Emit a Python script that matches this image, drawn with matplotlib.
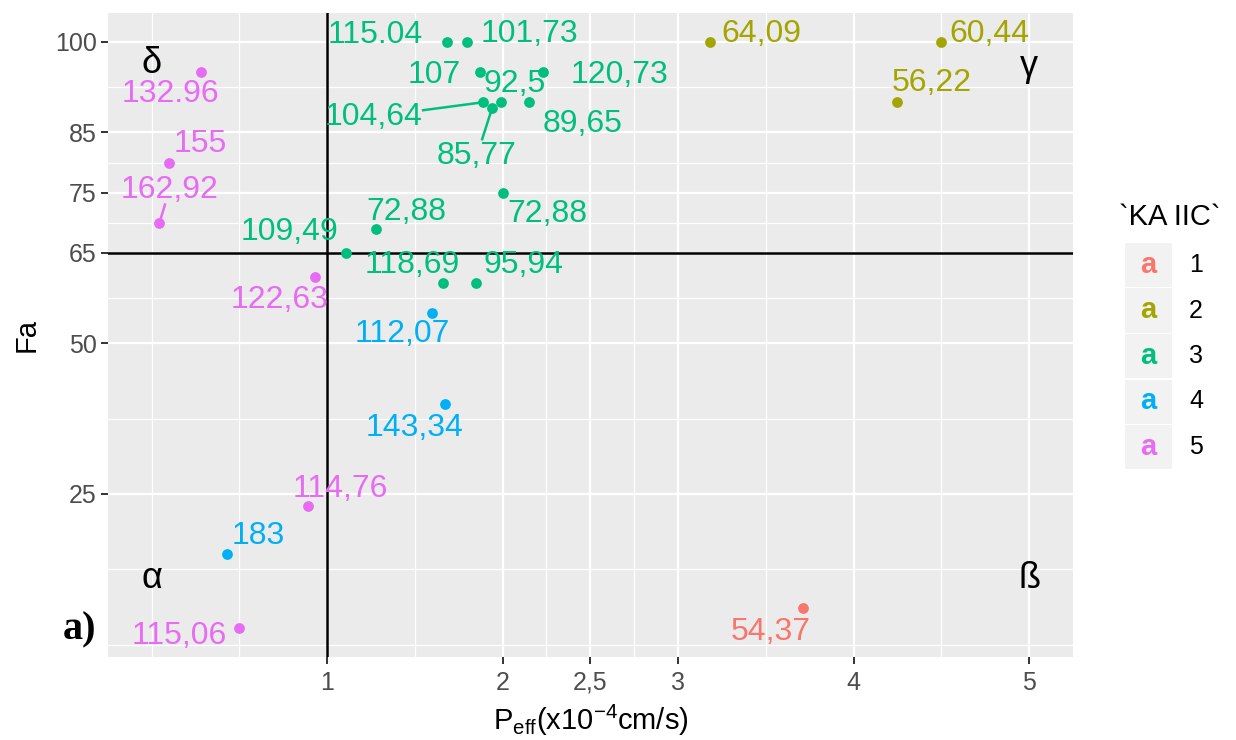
import numpy as np
import matplotlib.pyplot as plt
from matplotlib.patches import Rectangle

plt.rcParams['font.family'] = ['Liberation Sans', 'DejaVu Sans']
plt.rcParams['mathtext.fontset'] = 'custom'
plt.rcParams['mathtext.rm'] = 'Liberation Sans'
plt.rcParams['mathtext.it'] = 'Liberation Sans:italic'

# values
groups = ['1', '2', '3', '4', '5']
colors = ['#F8766D', '#A3A500', '#00BF7D', '#00B0F6', '#E76BF3']

peff_1 = [3.71]
fa_1 = [6]
lab_1 = ['54,37']

peff_2 = [3.18, 4.50, 4.25]
fa_2 = [100, 100, 90]
lab_2 = ['64,09', '60,44', '56,22']

peff_3 = [1.685, 1.80, 1.87, 2.23, 1.99, 1.89, 2.15, 1.94, 1.28, 2.00,
          1.11, 1.66, 1.85]
fa_3 = [100, 100, 95, 95, 90, 90, 90, 89, 69, 75, 65, 60, 60]
lab_3 = ['115.04', '101,73', '107', '120,73', '92,5', '104,64', '89,65',
         '85,77', '72,88', '72,88', '109,49', '118,69', '95,94']

peff_4 = [1.60, 1.67, 0.43]
fa_4 = [55, 40, 15]
lab_4 = ['112,07', '143,34', '183']

peff_5 = [0.28, 0.10, 0.045, 0.93, 0.89, 0.50]
fa_5 = [95, 80, 70, 61, 23, 2.8]
lab_5 = ['132.96', '155', '162,92', '122,63', '114,76', '115,06']

x_breaks = [1, 2, 2.5, 3, 4, 5]
x_labels = ['1', '2', '2,5', '3', '4', '5']
y_breaks = [25, 50, 65, 75, 85, 100]
vline_x = 1
hline_y = 65

quadrants = ['α', 'ß', 'γ', 'δ']
quad_x = [0, 5, 5, 0]
quad_y = [11, 11, 96, 96.5]

peff = [peff_1, peff_2, peff_3, peff_4, peff_5]
fa = [fa_1, fa_2, fa_3, fa_4, fa_5]
labs = [lab_1, lab_2, lab_3, lab_4, lab_5]

# where the repelled labels ended up, relative to their point
nudges = [
    [(-0.184, -3.9)],
    [(0.295, 1.3), (0.275, 1.3), (0.198, 3.2)],
    [(-0.412, 1.2), (0.355, 1.3), (-0.261, -0.5), (0.437, -0.5),
     (0.08, 3.0), (-0.623, -2.4), (0.304, -3.6), (-0.087, -7.9),
     (0.17, 2.8), (0.257, -3.5), (-0.326, 3.5), (-0.176, 3.0),
     (0.271, 3.0)],
    [(-0.173, -3.4), (-0.169, -4.05), (0.177, 3.0)],
    [(-0.175, -3.7), (0.177, 3.1), (0.056, 5.4), (-0.203, -3.8),
     (0.184, 2.8), (-0.342, -1.3)],
]
# labels that got a leader segment: (group, index, start fraction)
segments = [(2, 5, 0.45), (2, 7, 0.35), (4, 2, 0.44)]

W, H = 1236, 740


def fx(px):
    return px / W


def fy(py):
    return 1 - py / H


def minor_breaks(b, lo, hi):
    # ggplot style: midpoints of the breaks, extended by one step
    b = list(b)
    d = b[1] - b[0]
    if lo < b[0]:
        b = [b[0] - d] + b
    if hi > b[-1]:
        b = b + [b[-1] + d]
    mids = [(b[i] + b[i + 1]) / 2 for i in range(len(b) - 1)]
    return sorted(set(mids + b))


fig = plt.figure(figsize=(W / 100, H / 100), dpi=100)
ax = fig.add_axes([fx(107.7), fy(657), fx(1073 - 107.7), (657 - 12.7) / H])
ax.set_facecolor('#EBEBEB')
for s in ax.spines.values():
    s.set_visible(False)

all_x = sum(peff, []) + quad_x
all_y = sum(fa, []) + quad_y
xr = max(all_x) - min(all_x)
yr = max(all_y) - min(all_y)
xlim = (min(all_x) - 0.05 * xr, max(all_x) + 0.05 * xr)
ylim = (min(all_y) - 0.05 * yr, max(all_y) + 0.05 * yr)
ax.set_xlim(xlim)
ax.set_ylim(ylim)

ax.set_xticks(x_breaks)
ax.set_xticklabels(x_labels)
ax.set_yticks(y_breaks)
xm = [v for v in minor_breaks(x_breaks, *xlim)
      if xlim[0] <= v <= xlim[1] and v not in x_breaks]
ym = [v for v in minor_breaks(y_breaks, *ylim)
      if ylim[0] <= v <= ylim[1] and v not in y_breaks]
ax.set_xticks(xm, minor=True)
ax.set_yticks(ym, minor=True)
ax.grid(which='major', color='white', lw=1.6)
ax.grid(which='minor', color='white', lw=0.9)
ax.set_axisbelow(True)
ax.tick_params(which='minor', length=0)
ax.tick_params(which='major', length=5, width=1.4, color='#333333',
               labelcolor='#4D4D4D')
ax.tick_params(axis='x', labelsize=18, pad=5)
ax.tick_params(axis='y', labelsize=18, pad=3)

ax.axvline(vline_x, color='black', lw=1.8, zorder=2)
ax.axhline(hline_y, color='black', lw=1.8, zorder=2)

for g in range(len(groups)):
    ax.scatter(peff[g], fa[g], s=60, color=colors[g], zorder=3, lw=0)
    for i, t in enumerate(labs[g]):
        dx, dy = nudges[g][i]
        ax.text(peff[g][i] + dx, fa[g][i] + dy, t, color=colors[g],
                fontsize=23, ha='center', va='center', zorder=4)

for g, i, frac in segments:
    px, py = peff[g][i], fa[g][i]
    lx, ly = px + nudges[g][i][0], py + nudges[g][i][1]
    sx, sy = lx + (px - lx) * frac, ly + (py - ly) * frac
    ex, ey = lx + (px - lx) * 0.97, ly + (py - ly) * 0.97
    ax.plot([sx, ex], [sy, ey], color=colors[g], lw=1.8, zorder=3)

for t, x, y in zip(quadrants, quad_x, quad_y):
    ax.text(x, y, t, fontsize=26, color='black', ha='center', va='center')

ax.set_xlabel(r'$\mathrm{P_{eff}(x10^{-4}cm/s)}$', fontsize=21, labelpad=6)
ax.set_ylabel('Fa', fontsize=21, labelpad=10)

fig.text(fx(80), fy(630), 'a)', fontsize=29, fontweight='bold',
         family='Liberation Serif', ha='center', va='center')

# legend
fig.text(fx(1119), fy(217), '`KA IIC`', fontsize=21, ha='left', va='center')
for g, name in enumerate(groups):
    top = 243 + g * 45.5
    fig.patches.append(Rectangle((fx(1125), fy(top + 44)), fx(47), 44 / H,
                                 transform=fig.transFigure,
                                 facecolor='#F2F2F2', edgecolor='none'))
    fig.text(fx(1148.5), fy(top + 22), 'a', color=colors[g], fontsize=21,
             fontweight='bold', ha='center', va='center')
    fig.text(fx(1189), fy(top + 22), name, fontsize=18, ha='left', va='center')

fig.savefig('out.png', dpi=100)
